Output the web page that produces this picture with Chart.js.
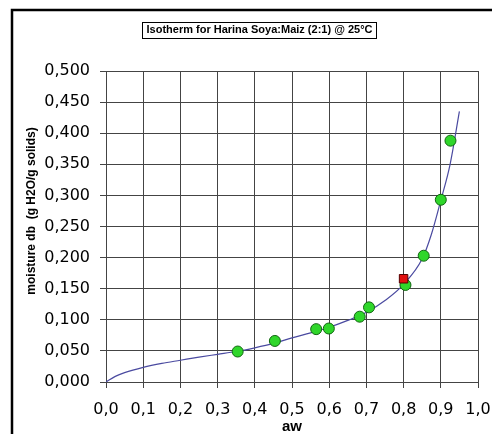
<!DOCTYPE html>
<html>
<head>
<meta charset="utf-8">
<script src="https://cdn.jsdelivr.net/npm/chart.js@4/dist/chart.umd.min.js"></script>
<style>
  html, body { margin: 0; padding: 0; background: #fff; }
  #wrap { width: 492px; height: 434px; }
</style>
</head>
<body>
<div id="wrap"><canvas id="isoChart" width="492" height="434"></canvas></div>
<script>
// ===== isotherm data =====
const chartTitle = 'Isotherm for Harina Soya:Maiz (2:1) @ 25°C';
const xTitle = 'aw';
const yTitle = 'moisture db  (g H2O/g solids)';

// measured points (green)
const measAw = [0.354, 0.454, 0.565, 0.599, 0.682, 0.707, 0.805, 0.854, 0.900, 0.926];
const measM  = [0.049, 0.066, 0.085, 0.086, 0.105, 0.120, 0.156, 0.203, 0.293, 0.388];

// highlighted point (red square)
const markAw = [0.800];
const markM  = [0.166];

// fitted curve
const curveAw = [0, 0.025, 0.05, 0.1, 0.15, 0.2, 0.25, 0.3, 0.35, 0.4, 0.45, 0.5, 0.55, 0.6, 0.65, 0.7, 0.75, 0.8, 0.85, 0.875, 0.9, 0.925, 0.95];
const curveM  = [0, 0.009, 0.015, 0.0236, 0.030, 0.035, 0.040, 0.0445, 0.049, 0.055, 0.062, 0.071, 0.079, 0.088, 0.099, 0.112, 0.131, 0.157, 0.198, 0.238, 0.292, 0.350, 0.435];

const toXY = (xs, ys) => xs.map((x, i) => ({ x: x, y: ys[i] }));
const comma = (v, d) => Number(v).toFixed(d).replace('.', ',');

// frame + titles drawn on the canvas
const decorPlugin = {
    id: 'decor',
    beforeDraw(chart) {
        const ctx = chart.ctx;
        ctx.save();
        ctx.fillStyle = '#fff';
        ctx.fillRect(0, 0, chart.width, chart.height);
        ctx.strokeStyle = '#000';
        ctx.lineWidth = 2.5;
        ctx.strokeRect(12, 10, 700, 700);
        ctx.restore();
    },
    afterDraw(chart) {
        const ctx = chart.ctx;
        ctx.save();
        // boxed chart title
        ctx.font = 'bold 11px "Liberation Sans", Arial, sans-serif';
        ctx.fillStyle = '#000';
        ctx.textAlign = 'center';
        ctx.textBaseline = 'middle';
        const tw = ctx.measureText(chartTitle).width;
        const cx = 259.5, cy = 30;
        ctx.fillText(chartTitle, cx, cy);
        ctx.strokeStyle = '#000';
        ctx.lineWidth = 1;
        ctx.strokeRect(Math.round(cx - tw / 2 - 4) + 0.5, 22.5, Math.round(tw + 8), 16);

        // x title
        ctx.font = 'bold 15px "Liberation Sans", Arial, sans-serif';
        ctx.fillText(xTitle, (chart.chartArea.left + chart.chartArea.right) / 2, 427);

        // y title
        ctx.font = 'bold 12px "Liberation Sans", Arial, sans-serif';
        ctx.translate(32, 211);
        ctx.rotate(-Math.PI / 2);
        ctx.fillText(yTitle, 0, 0);
        ctx.restore();
    }
};

const gridColor = '#444';
const tickFont = { family: '"DejaVu Sans", Arial, sans-serif', size: 16 };

new Chart(document.getElementById('isoChart').getContext('2d'), {
    type: 'scatter',
    data: {
        datasets: [
            {
                label: 'mark',
                data: toXY(markAw, markM),
                pointStyle: 'rect',
                pointRadius: 6,
                backgroundColor: '#e01010',
                borderColor: '#550000',
                borderWidth: 1
            },
            {
                label: 'measured',
                data: toXY(measAw, measM),
                pointStyle: 'circle',
                pointRadius: 5.5,
                backgroundColor: '#2fd62a',
                borderColor: '#116611',
                borderWidth: 1
            },
            {
                label: 'fit',
                type: 'line',
                data: toXY(curveAw, curveM),
                showLine: true,
                borderColor: '#4a4aa0',
                borderWidth: 1.2,
                pointRadius: 0,
                cubicInterpolationMode: 'monotone',
                fill: false
            }
        ]
    },
    options: {
        responsive: false,
        animation: false,
        layout: { padding: { top: 71, right: 14, bottom: 0, left: 0 } },
        plugins: {
            legend: { display: false },
            tooltip: { enabled: false },
            title: { display: false }
        },
        scales: {
            x: {
                type: 'linear',
                min: 0,
                max: 1,
                afterFit: scale => {
                    scale.height = 52;
                    scale.paddingLeft = 0;
                    scale.paddingRight = 0;
                },
                grid: { color: gridColor, tickLength: 6, drawTicks: true },
                border: { color: gridColor },
                ticks: {
                    stepSize: 0.1,
                    color: '#000',
                    font: tickFont,
                    padding: 12,
                    maxRotation: 0,
                    callback: v => comma(v, 1)
                }
            },
            y: {
                type: 'linear',
                min: 0,
                max: 0.5,
                afterFit: scale => {
                    scale.width = 106;
                    scale.paddingTop = 0;
                    scale.paddingBottom = 0;
                },
                grid: { color: gridColor, tickLength: 6, drawTicks: true },
                border: { color: gridColor },
                ticks: {
                    stepSize: 0.05,
                    color: '#000',
                    font: tickFont,
                    padding: 10,
                    callback: v => comma(v, 3)
                }
            }
        }
    },
    plugins: [decorPlugin]
});
</script>
</body>
</html>
